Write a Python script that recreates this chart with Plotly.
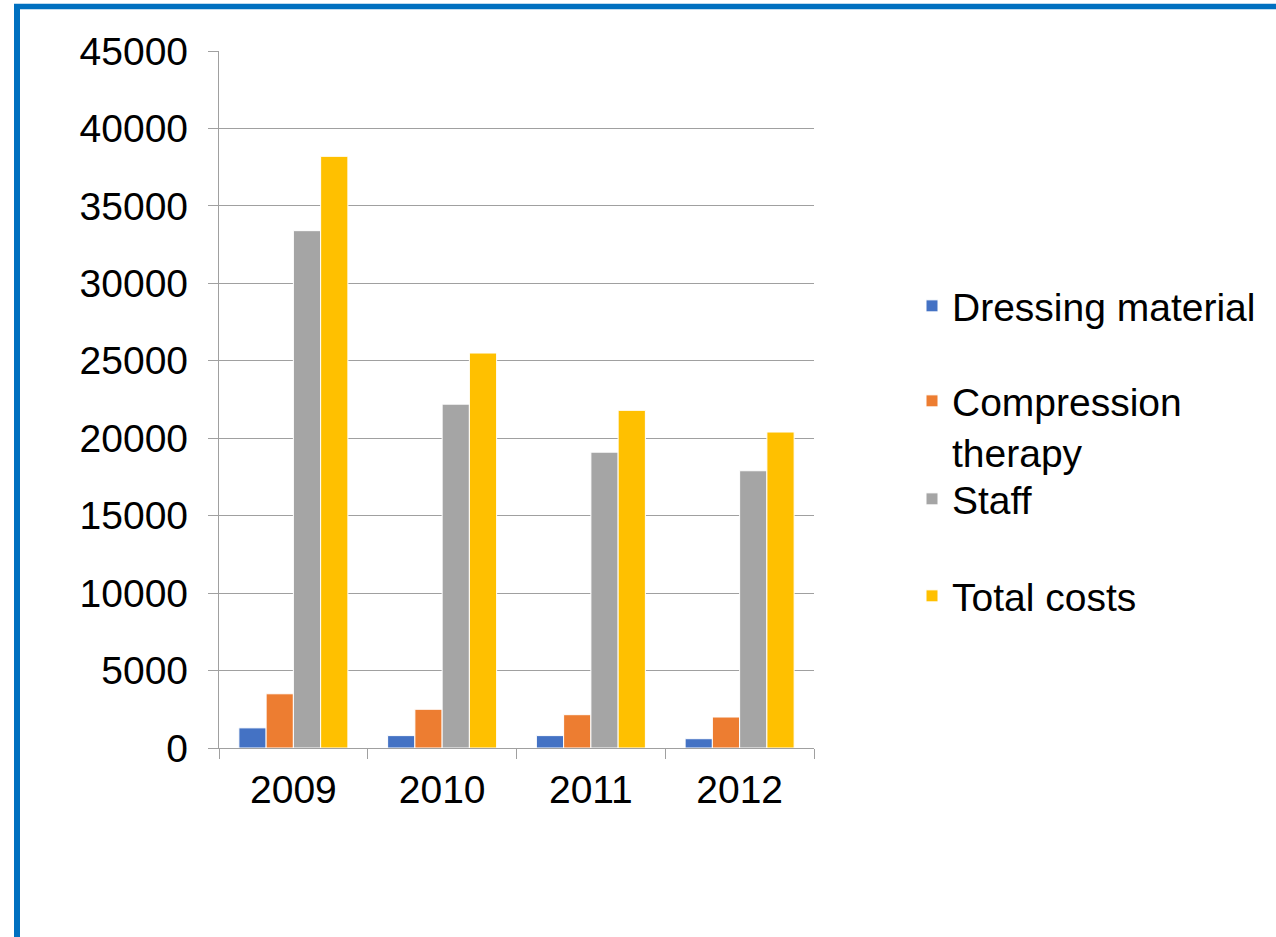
import plotly.graph_objects as go

years = ["2009", "2010", "2011", "2012"]
series_names = ["Dressing material", "Compression<br>therapy", "Staff", "Total costs"]
dressing = [1300, 800, 800, 600]
compression = [3500, 2500, 2150, 2000]
staff = [33400, 22200, 19100, 17900]
total = [38200, 25500, 21800, 20400]
y_ticks = [0, 5000, 10000, 15000, 20000, 25000, 30000, 35000, 40000, 45000]

colors = ["#4472C4", "#ED7D31", "#A5A5A5", "#FFC000"]
values = [dressing, compression, staff, total]

W, H = 1276, 937
L, R, T, B = 219, 462, 51, 189
FONT = "Liberation Sans, Arial, Helvetica, sans-serif"
GRID = "#A0A0A0"

legend_ids = ["legend", "legend2", "legend3", "legend4"]
legend_centers_px = [306, 396, 499, 596]

fig = go.Figure()
for name, vals, col, lg in zip(series_names, values, colors, legend_ids):
    fig.add_trace(go.Bar(
        x=years, y=vals, name=name,
        marker=dict(color=col, line=dict(color="white", width=1)),
        legend=lg,
    ))

def px_to_paper_x(px):
    return (px - L) / (W - L - R)

def px_to_paper_y(py):
    return (H - B - py) / (H - T - B)

border = "#0070C0"
# top border line
fig.add_shape(type="line", xref="paper", yref="paper",
              x0=px_to_paper_x(14), x1=px_to_paper_x(1290),
              y0=px_to_paper_y(6.5), y1=px_to_paper_y(6.5),
              line=dict(color=border, width=5.5), layer="above")
# left border line
fig.add_shape(type="line", xref="paper", yref="paper",
              x0=px_to_paper_x(17), x1=px_to_paper_x(17),
              y0=px_to_paper_y(4), y1=px_to_paper_y(950),
              line=dict(color=border, width=6), layer="above")

legend_common = dict(
    xref="container", yref="container", x=912 / W, xanchor="left",
    font=dict(family=FONT, size=39, color="#000000"),
    bgcolor="rgba(0,0,0,0)", borderwidth=0, itemwidth=30,
    valign="top",
)
layout_legends = {}
for i, lg in enumerate(legend_ids):
    cy = legend_centers_px[i]
    if i == 1:
        d = dict(legend_common, y=1 - (cy - 27) / H, yanchor="top")
    else:
        d = dict(legend_common, y=1 - cy / H, yanchor="middle")
    layout_legends[lg] = d

fig.update_layout(
    width=W, height=H,
    margin=dict(l=L, r=R, t=T, b=B, pad=0),
    paper_bgcolor="white", plot_bgcolor="white",
    barmode="group", bargap=0.267, bargroupgap=0,
    font=dict(family=FONT, size=39, color="#000000"),
    showlegend=True,
    **layout_legends,
)
fig.update_xaxes(
    type="category", showline=True, linecolor=GRID, linewidth=1.3,
    ticks="outside", tickson="boundaries", ticklen=10, tickcolor=GRID, tickwidth=1.3,
    showgrid=False, tickfont=dict(family=FONT, size=39, color="#000000"),
    ticklabelstandoff=7,
)
fig.update_yaxes(
    range=[0, 45000], tickvals=y_ticks, ticktext=[str(v) for v in y_ticks],
    showline=True, linecolor=GRID, linewidth=1.3,
    ticks="outside", ticklen=10, tickcolor=GRID, tickwidth=1.3,
    showgrid=True, gridcolor=GRID, gridwidth=1.3, zeroline=False,
    tickfont=dict(family=FONT, size=39, color="#000000"),
    ticklabelstandoff=12,
)

fig.write_html("out.html", config={"displayModeBar": False},
               post_script="document.body.style.margin='0px';")
